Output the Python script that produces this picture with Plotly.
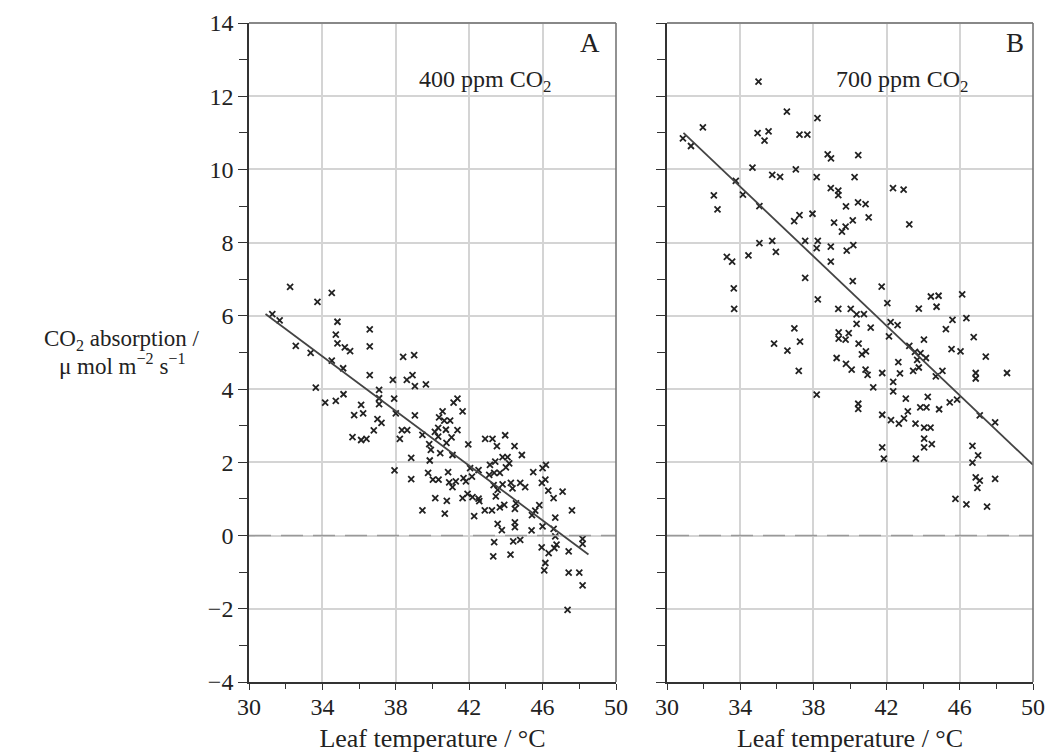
import plotly.graph_objects as go

# ---------------- data ----------------
temp_a = [32.24, 34.51, 33.73, 31.27, 31.67, 34.82, 36.58, 34.73, 34.82, 35.22, 35.51, 36.58, 32.55, 33.36,
          34.51, 35.13, 38.40, 39.00, 36.58, 37.84, 38.60, 38.91, 39.04, 39.64, 33.64, 37.09, 37.09, 37.09,
          37.91, 34.15, 34.73, 35.15, 36.11, 35.73, 36.22, 37.00, 37.22, 36.80, 38.00, 39.04, 35.64, 36.11,
          36.40, 38.33, 38.62, 38.22, 41.15, 41.36, 41.64, 40.55, 40.36, 40.64, 40.96, 40.31, 40.73, 41.36,
          40.13, 39.45, 40.31, 41.04, 40.76, 39.82, 39.91, 41.95, 40.42, 41.09, 38.84, 39.85, 37.93, 38.84,
          39.76, 40.02, 40.33, 40.85, 40.91, 41.09, 41.27, 41.69, 41.82, 42.05, 42.51, 42.15, 40.15, 40.78,
          40.67, 39.45, 41.64, 41.91, 42.18, 42.51, 42.55, 42.27, 42.87, 43.27, 43.96, 43.51, 44.47, 44.87,
          43.13, 43.42, 43.82, 44.09, 44.18, 44.00, 43.09, 43.36, 43.67, 43.33, 43.55, 43.82, 44.27, 44.36,
          44.78, 45.05, 43.45, 43.67, 43.91, 44.55, 44.49, 42.85, 43.24, 43.55, 43.78, 44.49, 44.49, 45.40,
          43.36, 43.31, 44.25, 44.40, 44.78, 45.49, 46.00, 46.18, 46.15, 45.96, 46.31, 46.60, 47.09, 47.60,
          45.42, 45.60, 45.82, 46.00, 46.60, 46.69, 46.69, 45.95, 46.33, 46.64, 46.76, 47.42, 48.18, 48.18,
          46.15, 46.09, 47.42, 48.00, 48.18, 47.36]
co2_a = [6.79, 6.63, 6.38, 6.05, 5.88, 5.84, 5.63, 5.49, 5.25, 5.14, 5.04, 5.17, 5.18, 4.99,
         4.78, 4.57, 4.88, 4.93, 4.38, 4.25, 4.25, 4.38, 4.08, 4.13, 4.04, 3.98, 3.75, 3.59,
         3.74, 3.63, 3.68, 3.86, 3.57, 3.29, 3.34, 3.18, 3.08, 2.87, 3.34, 3.28, 2.69, 2.61,
         2.64, 2.88, 2.88, 2.64, 3.63, 3.74, 3.39, 3.39, 3.23, 3.14, 3.14, 2.94, 2.89, 2.88,
         2.83, 2.75, 2.70, 2.68, 2.53, 2.50, 2.34, 2.49, 2.25, 2.20, 2.12, 2.05, 1.78, 1.54,
         1.71, 1.53, 1.53, 1.73, 1.45, 1.32, 1.48, 1.57, 1.48, 1.84, 1.79, 1.61, 1.02, 0.95,
         0.60, 0.69, 1.02, 1.14, 1.05, 1.01, 0.94, 0.53, 2.64, 2.64, 2.74, 2.44, 2.44, 2.20,
         1.93, 2.02, 2.14, 2.14, 1.97, 1.86, 1.66, 1.71, 1.71, 1.38, 1.25, 1.40, 1.44, 1.29,
         1.44, 1.32, 1.07, 0.77, 0.84, 0.88, 0.73, 0.69, 0.69, 0.32, 0.15, 0.36, 0.23, 0.14,
         -0.18, -0.57, -0.52, -0.16, -0.12, 1.73, 1.84, 1.93, 1.53, 1.44, 1.23, 1.02, 1.20, 0.69,
         0.56, 0.68, 0.83, 0.25, 0.18, 0.49, -0.02, -0.32, -0.48, -0.34, -0.25, -0.43, -0.09, -0.23,
         -0.75, -0.95, -1.01, -1.01, -1.36, -2.03]

temp_b = [35.00, 36.55, 38.22, 31.96, 34.95, 35.55, 35.33, 37.24, 37.67, 30.87, 31.31, 38.78, 38.96, 40.45,
          34.67, 37.04, 35.75, 36.18, 38.18, 40.25, 33.76, 38.95, 39.36, 39.36, 42.35, 42.93, 32.56,
          34.15, 32.76, 35.05, 39.78, 40.44, 40.85, 36.95, 37.24, 37.95, 39.13, 39.76, 39.56, 40.15,
          41.02, 43.24, 35.05, 35.75, 37.55, 38.24, 38.18, 38.95, 39.82, 40.18, 33.27, 33.56, 34.45,
          35.95, 38.95, 37.55, 40.15, 33.65, 41.73, 38.24, 42.04, 33.67, 39.36, 40.04, 40.36, 40.76,
          44.42, 44.84, 46.13, 43.76, 44.73, 45.60, 46.36, 40.36, 41.13, 42.22, 42.60, 42.13, 45.24,
          46.76, 36.96, 39.38, 39.93, 39.38, 39.76, 35.85, 36.58, 37.27, 40.47, 40.65, 40.87, 43.24,
          44.04, 43.55, 43.85, 44.15, 43.67, 45.55, 46.04, 47.42, 39.27, 39.78, 40.09, 37.20, 40.85,
          40.96, 41.76, 42.64, 42.73, 43.45, 43.76, 44.69, 45.05, 46.87, 46.87, 48.58, 42.36, 41.27,
          42.36, 38.18, 43.05, 44.25, 40.45, 40.45, 43.84, 44.18, 44.87, 45.45, 45.85, 43.16, 41.76,
          42.24, 42.67, 42.95, 43.58, 44.05, 44.40, 47.09, 47.93, 44.05, 44.05, 44.47, 41.76, 41.85,
          43.60, 46.69, 47.00, 46.69, 46.87, 47.09, 46.96, 47.93, 45.76, 46.36, 47.49]
co2_b = [12.40, 11.58, 11.40, 11.15, 10.99, 11.04, 10.79, 10.95, 10.95, 10.85, 10.64, 10.41, 10.30, 10.39,
         10.05, 10.00, 9.85, 9.80, 9.79, 9.79, 9.69, 9.49, 9.42, 9.30, 9.49, 9.45, 9.29,
         9.31, 8.91, 9.00, 8.99, 9.10, 9.05, 8.59, 8.75, 8.79, 8.55, 8.44, 8.30, 8.61,
         8.69, 8.50, 7.99, 8.05, 8.05, 8.05, 7.85, 7.89, 7.78, 7.93, 7.61, 7.48, 7.65,
         7.75, 7.48, 7.04, 6.95, 6.75, 6.80, 6.45, 6.35, 6.19, 6.19, 6.19, 6.04, 6.05,
         6.53, 6.55, 6.59, 6.20, 6.25, 5.89, 5.94, 5.78, 5.68, 5.83, 5.75, 5.44, 5.64,
         5.42, 5.66, 5.55, 5.53, 5.38, 5.35, 5.24, 5.05, 5.30, 5.24, 4.95, 5.03, 5.18,
         5.35, 5.02, 4.98, 4.85, 4.80, 5.09, 5.03, 4.89, 4.85, 4.69, 4.53, 4.50, 4.53,
         4.39, 4.44, 4.74, 4.43, 4.50, 4.59, 4.35, 4.50, 4.44, 4.29, 4.44, 4.20, 4.05,
         3.94, 3.85, 3.74, 3.79, 3.60, 3.46, 3.50, 3.50, 3.45, 3.64, 3.71, 3.39, 3.30,
         3.15, 3.06, 3.20, 3.06, 2.95, 2.95, 3.28, 3.09, 2.65, 2.41, 2.50, 2.41, 2.10,
         2.10, 2.45, 2.19, 1.99, 1.59, 1.50, 1.30, 1.55, 1.00, 0.85, 0.79]

# regression line end points
fit_x_a = [30.9, 48.5]
fit_y_a = [6.05, -0.52]
fit_x_b = [30.9, 50.0]
fit_y_b = [11.0, 1.93]

x_ticks = [30, 34, 38, 42, 46, 50]
y_ticks = [-4, -2, 0, 2, 4, 6, 8, 10, 12, 14]
panel_letters = ["A", "B"]
panel_labels = ["400 ppm CO<sub>2</sub>", "700 ppm CO<sub>2</sub>"]
x_title = "Leaf temperature / °C"
y_title_lines = ["CO<sub>2</sub> absorption /", "μ mol m<sup>−2</sup> s<sup>−1</sup>"]

# ---------------- figure ----------------
W, H = 1049, 753
FONT = "Liberation Serif, Times New Roman, serif"
TXT = "#222"
fig = go.Figure()

marker = dict(symbol="x-thin", size=6, color="#222", line=dict(width=1.8, color="#222"))
fig.add_trace(go.Scatter(x=temp_a, y=co2_a, mode="markers", marker=marker,
                         xaxis="x", yaxis="y", showlegend=False))
fig.add_trace(go.Scatter(x=fit_x_a, y=fit_y_a, mode="lines", line=dict(color="#444", width=1.8),
                         xaxis="x", yaxis="y", showlegend=False))
fig.add_trace(go.Scatter(x=temp_b, y=co2_b, mode="markers", marker=marker,
                         xaxis="x2", yaxis="y2", showlegend=False))
fig.add_trace(go.Scatter(x=fit_x_b, y=fit_y_b, mode="lines", line=dict(color="#444", width=1.8),
                         xaxis="x2", yaxis="y2", showlegend=False))

dom_a = [249 / W, 616 / W]
dom_b = [667 / W, 1033 / W]

def xax(domain, anchor):
    return dict(domain=domain, anchor=anchor, range=[30, 50], tickvals=x_ticks, automargin=False,
                ticks="outside", ticklen=6, tickwidth=1.3, tickcolor="#333",
                ticklabelstandoff=-4,
                showline=True, linecolor="#333", linewidth=1.6,
                showgrid=True, gridcolor="#d4d4d4", gridwidth=1.8, zeroline=False,
                minor=dict(dtick=2, tick0=30, ticks="outside", ticklen=5, tickwidth=1.3,
                           tickcolor="#333", showgrid=False),
                tickfont=dict(family=FONT, size=24, color=TXT),
                title=dict(text=x_title, font=dict(family=FONT, size=26, color=TXT), standoff=12))

def yax(anchor, labels):
    return dict(domain=[0, 1], anchor=anchor, range=[-4, 14], tickvals=y_ticks, automargin=False,
                ticks="outside", ticklen=9, tickwidth=1.3, tickcolor="#333",
                showticklabels=labels,
                showline=True, linecolor="#333", linewidth=1.6,
                showgrid=True, gridcolor="#d4d4d4", gridwidth=1.8, zeroline=False,
                minor=dict(dtick=1, tick0=0, ticks="outside", ticklen=8, tickwidth=1.3,
                           tickcolor="#333", showgrid=False),
                tickfont=dict(family=FONT, size=24, color=TXT))

fig.update_layout(
    width=W, height=H,
    margin=dict(l=0, r=0, t=23, b=71),
    plot_bgcolor="white", paper_bgcolor="white",
    xaxis=xax(dom_a, "y"), yaxis=yax("x", True),
    xaxis2=xax(dom_b, "y2"), yaxis2=yax("x2", False),
)

shapes = []
for xr, yr in (("x", "y"), ("x2", "y2")):
    # zero reference line (dashed)
    shapes.append(dict(type="line", xref=xr + " domain", yref=yr, x0=0, x1=1, y0=0, y1=0,
                       line=dict(color="#999", width=1.6, dash="22px,10px"), layer="above"))
    # top and right frame lines (lighter)
    shapes.append(dict(type="line", xref=xr + " domain", yref=yr + " domain", x0=0, x1=1, y0=1, y1=1,
                       line=dict(color="#888", width=2)))
    shapes.append(dict(type="line", xref=xr + " domain", yref=yr + " domain", x0=1, x1=1, y0=0, y1=1,
                       line=dict(color="#777", width=1.6)))
fig.update_layout(shapes=shapes)

PH = H - 23 - 71
letter_x = [48.6, 49.0]
annots = []
for i, (xr, yr) in enumerate((("x", "y"), ("x2", "y2"))):
    annots.append(dict(xref=xr, yref=yr, x=letter_x[i], y=13.45, text=panel_letters[i], showarrow=False,
                       xanchor="center", yanchor="middle",
                       font=dict(family=FONT, size=27, color=TXT)))
    annots.append(dict(xref=xr, yref=yr, x=42.85, y=12.42, text=panel_labels[i], showarrow=False,
                       xanchor="center", yanchor="middle",
                       font=dict(family=FONT, size=24, color=TXT)))
for line_text, ypix in zip(y_title_lines, (340, 364)):
    annots.append(dict(xref="paper", yref="paper", x=122 / W, y=(H - 71 - ypix) / PH,
                       xanchor="center", yanchor="middle",
                       text=line_text, showarrow=False, align="center",
                       font=dict(family=FONT, size=23, color=TXT)))
fig.update_layout(annotations=annots)

fig.write_html("out.html", config={"displayModeBar": False},
               post_script="document.body.style.margin='0px';")
